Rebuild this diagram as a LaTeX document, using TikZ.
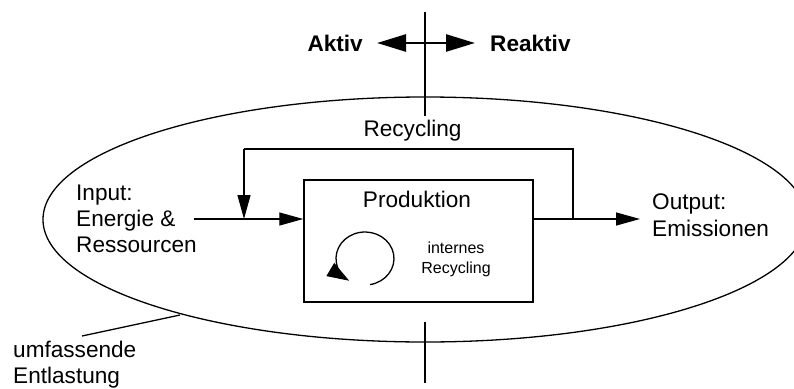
\documentclass[tikz,border=0pt]{standalone}
\usepackage{fontspec}
\setmainfont{Liberation Sans}
\usetikzlibrary{arrows.meta}
\begin{document}
\begin{tikzpicture}[x=1pt,y=-1pt,
  txt/.style={inner sep=0pt, font=\fontsize{22.6}{26}\selectfont},
  smalltxt/.style={inner sep=0pt, font=\fontsize{16}{20}\selectfont},
  boldtxt/.style={inner sep=0pt, font=\fontsize{22.6}{26}\selectfont\bfseries},
  thinline/.style={line width=1.3pt},
  axis/.style={line width=2.6pt},
  flow/.style={thinline, -{Triangle[length=24pt,width=13pt]}},
  bigtips/.style={axis, {Triangle[length=29pt,width=17pt]}-{Triangle[length=29pt,width=17pt]}},
]
\useasboundingbox (0,0) rectangle (794,388);
\clip (0,0) rectangle (794,388);

% outer boundary: umfassende Entlastung
\draw[thinline] (425,219.5) ellipse [x radius=382, y radius=122.5];

% vertical axis, split by the ellipse
\coordinate (axtop) at (425,12);
\coordinate (axtopend) at (425,116);
\coordinate (axbot) at (425,322);
\coordinate (axbotend) at (425,383);
\draw[axis] (axtop) -- (axtopend);
\draw[axis] (axbot) -- (axbotend);

% aktiv / reaktiv
\coordinate (akt) at (377,43);
\coordinate (reakt) at (475,43);
\draw[bigtips] (akt) -- (reakt);
\node[boldtxt, anchor=base east] (aktiv) at (363,51) {Aktiv};
\node[boldtxt, anchor=base west] (reaktiv) at (490,51) {Reaktiv};

% production box
\node[draw, line width=1.5pt, minimum width=229pt, minimum height=122pt, inner sep=0pt] (prod) at (418.5,241) {};
\node[txt, anchor=base] (prodlbl) at (417,207) {Produktion};

% input
\node[txt, anchor=base west] (in1) at (76,200) {Input:};
\node[txt, anchor=base west] (in2) at (76,226) {Energie \&};
\node[txt, anchor=base west] (in3) at (76,252) {Ressourcen};
\coordinate (instart) at (194,219);
\draw[flow] (instart) -- (instart -| prod.west);

% output
\coordinate (outend) at (640,219);
\draw[flow] (outend -| prod.east) -- (outend);
\node[txt, anchor=base west] (out1) at (652,209) {Output:};
\node[txt, anchor=base west] (out2) at (652,236) {Emissionen};

% external recycling loop
\coordinate (rtap) at (573,220);
\coordinate (rtr) at (573,149);
\coordinate (rtl) at (244,149);
\coordinate (rin) at (244,219);
\draw[thinline] (rtap) -- (rtr) -- (rtl);
\draw[flow] (rtl) -- (rin);
\node[txt, anchor=base] (rec) at (412.5,136) {Recycling};

% internal recycling
\coordinate (loopc) at (365,258.5);
\draw[thinline, -{Triangle[length=22pt,width=15pt]}]
  ([shift={(80:29 and 26.5)}]loopc) arc[start angle=80, end angle=-237, x radius=29, y radius=26.5];
\node[smalltxt, anchor=base] (int1) at (456,253) {internes};
\node[smalltxt, anchor=base] (int2) at (456,273) {Recycling};

% label for the ellipse
\node[txt, anchor=base west] (umf1) at (13,357) {umfassende};
\node[txt, anchor=base west] (umf2) at (13,383) {Entlastung};
\coordinate (umfl) at (82,336);
\coordinate (umfe) at (180,315);
\draw[thinline] (umfl) -- (umfe);
\end{tikzpicture}
\end{document}
